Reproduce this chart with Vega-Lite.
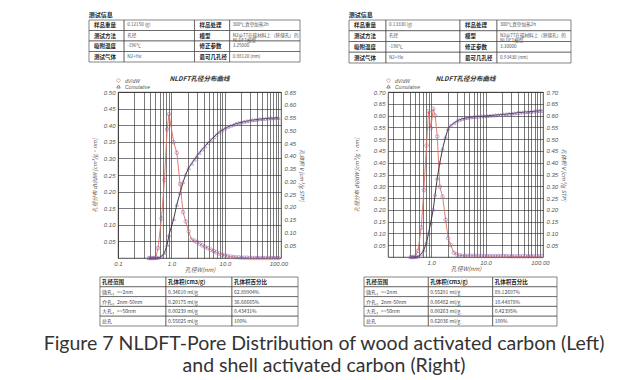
{
  "$schema": "https://vega.github.io/schema/vega-lite/v6.json",
  "background": "white",
  "padding": {"left": 43, "top": 11, "right": 2, "bottom": 2},
  "config": {"view": {"stroke": null}, "font": "Liberation Sans", "axis": {"labelOverlap": false}, "axisY": {"labelOverlap": false}},
  "title": {
    "text": ["Figure 7 NLDFT-Pore Distribution of wood activated carbon (Left)", "and shell activated carbon (Right)"],
    "orient": "bottom", "anchor": "middle", "fontSize": 19.5, "font": "Lato", "fontWeight": "normal",
    "color": "#333333", "lineHeight": 22, "offset": 9, "dx": -6
  },
  "datasets": {
    "curveL": [
      {"w": 0.38, "dv": 0, "cum": 0}, {"w": 0.42, "dv": 0, "cum": 0}, {"w": 0.46, "dv": 0, "cum": 0},
      {"w": 0.51, "dv": 0.002, "cum": 0}, {"w": 0.56, "dv": 0.03, "cum": 0.001}, {"w": 0.65, "dv": 0.119, "cum": 0.006},
      {"w": 0.74, "dv": 0.235, "cum": 0.02}, {"w": 0.83, "dv": 0.388, "cum": 0.052}, {"w": 0.9, "dv": 0.433, "cum": 0.09},
      {"w": 1.1, "dv": 0.349, "cum": 0.153}, {"w": 1.26, "dv": 0.317, "cum": 0.209}, {"w": 1.45, "dv": 0.223, "cum": 0.255},
      {"w": 1.65, "dv": 0.138, "cum": 0.297}, {"w": 1.85, "dv": 0.11, "cum": 0.327}, {"w": 2.1, "dv": 0.08, "cum": 0.353},
      {"w": 2.4, "dv": 0.055, "cum": 0.37}, {"w": 2.7, "dv": 0.052, "cum": 0.386}, {"w": 3.0, "dv": 0.048, "cum": 0.399},
      {"w": 3.35, "dv": 0.043, "cum": 0.412}, {"w": 3.75, "dv": 0.038, "cum": 0.425}, {"w": 4.25, "dv": 0.033, "cum": 0.438},
      {"w": 4.85, "dv": 0.03, "cum": 0.451}, {"w": 5.45, "dv": 0.025, "cum": 0.462}, {"w": 6.2, "dv": 0.021, "cum": 0.473},
      {"w": 6.9, "dv": 0.017, "cum": 0.483}, {"w": 7.9, "dv": 0.013, "cum": 0.493}, {"w": 8.8, "dv": 0.01, "cum": 0.5},
      {"w": 10.0, "dv": 0.008, "cum": 0.507}, {"w": 11.3, "dv": 0.006, "cum": 0.513}, {"w": 12.9, "dv": 0.004, "cum": 0.518},
      {"w": 14.5, "dv": 0.003, "cum": 0.522}, {"w": 16.2, "dv": 0.002, "cum": 0.526}, {"w": 18.2, "dv": 0.002, "cum": 0.529},
      {"w": 20.4, "dv": 0.001, "cum": 0.532}, {"w": 22.9, "dv": 0.001, "cum": 0.534}, {"w": 25.7, "dv": 0.001, "cum": 0.536},
      {"w": 28.8, "dv": 0, "cum": 0.538}, {"w": 32.4, "dv": 0, "cum": 0.54}, {"w": 36.3, "dv": 0, "cum": 0.541},
      {"w": 40.7, "dv": 0, "cum": 0.543}, {"w": 45.7, "dv": 0, "cum": 0.544}, {"w": 51.3, "dv": 0, "cum": 0.545},
      {"w": 57.5, "dv": 0, "cum": 0.546}, {"w": 64.6, "dv": 0, "cum": 0.547}, {"w": 72.4, "dv": 0, "cum": 0.548},
      {"w": 81.3, "dv": 0, "cum": 0.548}, {"w": 91.2, "dv": 0, "cum": 0.549}, {"w": 100, "dv": 0, "cum": 0.549}
    ],
    "curveR": [
      {"w": 0.42, "dv": 0, "cum": 0}, {"w": 0.46, "dv": 0, "cum": 0}, {"w": 0.51, "dv": 0.002, "cum": 0},
      {"w": 0.57, "dv": 0.026, "cum": 0.002}, {"w": 0.655, "dv": 0.125, "cum": 0.012}, {"w": 0.73, "dv": 0.284, "cum": 0.03},
      {"w": 0.82, "dv": 0.473, "cum": 0.062}, {"w": 0.89, "dv": 0.618, "cum": 0.1}, {"w": 0.98, "dv": 0.547, "cum": 0.146},
      {"w": 1.09, "dv": 0.629, "cum": 0.203}, {"w": 1.18, "dv": 0.6, "cum": 0.265}, {"w": 1.29, "dv": 0.511, "cum": 0.335},
      {"w": 1.44, "dv": 0.298, "cum": 0.4}, {"w": 1.62, "dv": 0.256, "cum": 0.46}, {"w": 1.84, "dv": 0.158, "cum": 0.51},
      {"w": 2.05, "dv": 0.08, "cum": 0.545}, {"w": 2.28, "dv": 0.051, "cum": 0.558}, {"w": 2.61, "dv": 0.018, "cum": 0.568},
      {"w": 2.94, "dv": 0.011, "cum": 0.576}, {"w": 3.3, "dv": 0.007, "cum": 0.582}, {"w": 3.7, "dv": 0.006, "cum": 0.586},
      {"w": 4.2, "dv": 0.005, "cum": 0.589}, {"w": 4.7, "dv": 0.005, "cum": 0.591}, {"w": 5.3, "dv": 0.005, "cum": 0.593},
      {"w": 6.0, "dv": 0.005, "cum": 0.594}, {"w": 6.7, "dv": 0.005, "cum": 0.595}, {"w": 7.5, "dv": 0.004, "cum": 0.596},
      {"w": 8.5, "dv": 0.004, "cum": 0.597}, {"w": 9.5, "dv": 0.004, "cum": 0.598}, {"w": 10.7, "dv": 0.004, "cum": 0.599},
      {"w": 12, "dv": 0.004, "cum": 0.6}, {"w": 13.5, "dv": 0.004, "cum": 0.601}, {"w": 15.2, "dv": 0.004, "cum": 0.602},
      {"w": 17, "dv": 0.004, "cum": 0.603}, {"w": 19, "dv": 0.004, "cum": 0.604}, {"w": 21.5, "dv": 0.004, "cum": 0.605},
      {"w": 24, "dv": 0.004, "cum": 0.606}, {"w": 27, "dv": 0.003, "cum": 0.608}, {"w": 30.5, "dv": 0.003, "cum": 0.609},
      {"w": 34, "dv": 0.003, "cum": 0.61}, {"w": 38.5, "dv": 0.003, "cum": 0.612}, {"w": 43, "dv": 0.003, "cum": 0.613},
      {"w": 48.5, "dv": 0.003, "cum": 0.614}, {"w": 54.5, "dv": 0.003, "cum": 0.615}, {"w": 61, "dv": 0.003, "cum": 0.616},
      {"w": 69, "dv": 0.003, "cum": 0.617}, {"w": 77, "dv": 0.003, "cum": 0.618}, {"w": 87, "dv": 0.003, "cum": 0.619},
      {"w": 97, "dv": 0.003, "cum": 0.62}, {"w": 108, "dv": 0.003, "cum": 0.62}
    ],
    "infoL": [
      {"r": 0, "c0": 0, "c1": 1, "t": "样品重量", "k": 1}, {"r": 0, "c0": 1, "c1": 3, "t": "0.12150 (g)", "k": 0},
      {"r": 0, "c0": 3, "c1": 4, "t": "样品处理", "k": 1}, {"r": 0, "c0": 4, "c1": 6, "t": "300℃真空加热2h", "k": 0},
      {"r": 1, "c0": 0, "c1": 1, "t": "测试方法", "k": 1}, {"r": 1, "c0": 1, "c1": 3, "t": "孔径", "k": 0},
      {"r": 1, "c0": 3, "c1": 4, "t": "模型", "k": 1}, {"r": 1, "c0": 4, "c1": 6, "t": "N2@77在碳材料上（狭缝孔）的\nNLDFT模型", "k": 0},
      {"r": 2, "c0": 0, "c1": 1, "t": "吸附温度", "k": 1}, {"r": 2, "c0": 1, "c1": 3, "t": "-196℃", "k": 0},
      {"r": 2, "c0": 3, "c1": 4, "t": "修正参数", "k": 1}, {"r": 2, "c0": 4, "c1": 6, "t": "3.25000", "k": 0},
      {"r": 3, "c0": 0, "c1": 1, "t": "测试气体", "k": 1}, {"r": 3, "c0": 1, "c1": 3, "t": "N2+He", "k": 0},
      {"r": 3, "c0": 3, "c1": 4, "t": "最可几孔径", "k": 1}, {"r": 3, "c0": 4, "c1": 6, "t": "0.88120 (nm)", "k": 0}
    ],
    "infoR": [
      {"r": 0, "c0": 0, "c1": 1, "t": "样品重量", "k": 1}, {"r": 0, "c0": 1, "c1": 3, "t": "0.13330 (g)", "k": 0},
      {"r": 0, "c0": 3, "c1": 4, "t": "样品处理", "k": 1}, {"r": 0, "c0": 4, "c1": 6, "t": "300℃真空加热2h", "k": 0},
      {"r": 1, "c0": 0, "c1": 1, "t": "测试方法", "k": 1}, {"r": 1, "c0": 1, "c1": 3, "t": "孔径", "k": 0},
      {"r": 1, "c0": 3, "c1": 4, "t": "模型", "k": 1}, {"r": 1, "c0": 4, "c1": 6, "t": "N2@77在碳材料上（狭缝孔）的\nNLDFT模型", "k": 0},
      {"r": 2, "c0": 0, "c1": 1, "t": "吸附温度", "k": 1}, {"r": 2, "c0": 1, "c1": 3, "t": "-196℃", "k": 0},
      {"r": 2, "c0": 3, "c1": 4, "t": "修正参数", "k": 1}, {"r": 2, "c0": 4, "c1": 6, "t": "3.30000", "k": 0},
      {"r": 3, "c0": 0, "c1": 1, "t": "测试气体", "k": 1}, {"r": 3, "c0": 1, "c1": 3, "t": "N2+He", "k": 0},
      {"r": 3, "c0": 3, "c1": 4, "t": "最可几孔径", "k": 1}, {"r": 3, "c0": 4, "c1": 6, "t": "0.93430 (nm)", "k": 0}
    ],
    "poreL": [
      {"r": 0, "c0": 0, "c1": 1, "t": "孔径范围", "k": 1}, {"r": 0, "c0": 1, "c1": 2, "t": "孔体积(cm3/g)", "k": 1}, {"r": 0, "c0": 2, "c1": 3, "t": "孔体积百分比", "k": 1},
      {"r": 1, "c0": 0, "c1": 1, "t": "微孔，<=2nm", "k": 0}, {"r": 1, "c0": 1, "c1": 2, "t": "0.34610 ml/g", "k": 0}, {"r": 1, "c0": 2, "c1": 3, "t": "62.89904%", "k": 0},
      {"r": 2, "c0": 0, "c1": 1, "t": "介孔，2nm-50nm", "k": 0}, {"r": 2, "c0": 1, "c1": 2, "t": "0.20175 ml/g", "k": 0}, {"r": 2, "c0": 2, "c1": 3, "t": "36.66665%", "k": 0},
      {"r": 3, "c0": 0, "c1": 1, "t": "大孔，>=50nm", "k": 0}, {"r": 3, "c0": 1, "c1": 2, "t": "0.00239 ml/g", "k": 0}, {"r": 3, "c0": 2, "c1": 3, "t": "0.43431%", "k": 0},
      {"r": 4, "c0": 0, "c1": 1, "t": "总孔", "k": 0}, {"r": 4, "c0": 1, "c1": 2, "t": "0.55025 ml/g", "k": 0}, {"r": 4, "c0": 2, "c1": 3, "t": "100%", "k": 0}
    ],
    "poreR": [
      {"r": 0, "c0": 0, "c1": 1, "t": "孔径范围", "k": 1}, {"r": 0, "c0": 1, "c1": 2, "t": "孔体积(cm3/g)", "k": 1}, {"r": 0, "c0": 2, "c1": 3, "t": "孔体积百分比", "k": 1},
      {"r": 1, "c0": 0, "c1": 1, "t": "微孔，<=2nm", "k": 0}, {"r": 1, "c0": 1, "c1": 2, "t": "0.55291 ml/g", "k": 0}, {"r": 1, "c0": 2, "c1": 3, "t": "89.12697%", "k": 0},
      {"r": 2, "c0": 0, "c1": 1, "t": "介孔，2nm-50nm", "k": 0}, {"r": 2, "c0": 1, "c1": 2, "t": "0.06482 ml/g", "k": 0}, {"r": 2, "c0": 2, "c1": 3, "t": "10.44878%", "k": 0},
      {"r": 3, "c0": 0, "c1": 1, "t": "大孔，>=50nm", "k": 0}, {"r": 3, "c0": 1, "c1": 2, "t": "0.00263 ml/g", "k": 0}, {"r": 3, "c0": 2, "c1": 3, "t": "0.42395%", "k": 0},
      {"r": 4, "c0": 0, "c1": 1, "t": "总孔", "k": 0}, {"r": 4, "c0": 1, "c1": 2, "t": "0.62036 ml/g", "k": 0}, {"r": 4, "c0": 2, "c1": 3, "t": "100%", "k": 0}
    ]
  },
  "spacing": 43,
  "resolve": {"scale": {"color": "independent", "shape": "independent"}, "legend": {"color": "independent", "shape": "independent"}},
  "hconcat": [
    {
      "spacing": 12,
      "resolve": {"scale": {"color": "independent", "shape": "independent"}, "legend": {"color": "independent", "shape": "independent"}},
      "vconcat": [
        {
          "width": 182, "height": 42,
          "data": {"name": "infoL"},
          "title": {"text": "测试信息", "anchor": "start", "fontSize": 6, "fontWeight": "bold", "font": "Noto Sans CJK SC", "offset": 2, "color": "#222222"},
          "encoding": {"y": {"field": "r", "type": "ordinal", "axis": null, "scale": {"paddingInner": 0, "paddingOuter": 0}}},
          "layer": [
            {"mark": {"type": "rect", "fill": "white", "stroke": "#333333", "strokeWidth": 0.6},
             "encoding": {"x": {"field": "c0", "type": "quantitative", "scale": {"domain": [0.825, 6], "nice": false, "zero": false}, "axis": null}, "x2": {"field": "c1"}}},
            {"transform": [{"filter": "datum.k == 1"}],
             "mark": {"type": "text", "align": "left", "dx": 5, "fontSize": 5.5, "fontWeight": "bold", "font": "Noto Sans CJK SC", "color": "#222222"},
             "encoding": {"x": {"field": "c0", "type": "quantitative"}, "text": {"field": "t"}}},
            {"transform": [{"filter": "datum.k == 0"}],
             "mark": {"type": "text", "align": "left", "dx": 3, "fontSize": 4.6, "font": "Noto Sans CJK SC", "color": "#555555", "lineBreak": "\n", "lineHeight": 4.8},
             "encoding": {"x": {"field": "c0", "type": "quantitative"}, "text": {"field": "t"}}}
          ]
        },
        {
          "spacing": 3,
          "resolve": {"scale": {"color": "independent", "shape": "independent"}, "legend": {"color": "independent", "shape": "independent"}},
          "vconcat": [
            {
              "width": 163, "height": 166,
              "data": {"name": "curveL"},
              "view": {"stroke": "#222222", "strokeWidth": 0.8},
              "title": {"text": "NLDFT孔径分布曲线", "fontSize": 6.5, "fontStyle": "italic", "fontWeight": "bold", "font": "Noto Sans CJK SC", "color": "#333333", "offset": 4, "dy": 8, "anchor": "middle"},
              "encoding": {
                "x": {"field": "w", "type": "quantitative", "scale": {"type": "log", "domain": [0.1, 112], "nice": false},
                  "axis": {"values": [0.1, 0.2, 0.3, 0.4, 0.5, 0.6, 0.7, 0.8, 0.9, 1, 2, 3, 4, 5, 6, 7, 8, 9, 10, 20, 30, 40, 50, 60, 70, 80, 90, 100],
                    "labelExpr": "datum.value == 0.1 ? '0.1' : datum.value == 1 ? '1.0' : datum.value == 10 ? '10.0' : datum.value == 100 ? '100.00' : ''",
                    "labelOverlap": false, "labelFlush": false, "labelFontSize": 6, "labelColor": "#555555", "labelFontStyle": "italic", "labelPadding": 2,
                    "grid": true, "gridColor": "#222222", "gridWidth": 0.6, "ticks": false, "domain": false,
                    "title": "孔径W(nm)", "titleFont": "Noto Sans CJK SC", "titleFontSize": 6, "titleFontWeight": "normal", "titleFontStyle": "italic", "titleColor": "#555555", "titlePadding": 0}}
              },
              "layer": [
                {
                  "encoding": {
                    "y": {"field": "dv", "type": "quantitative", "scale": {"domain": [0, 0.5], "nice": false},
                      "axis": {"values": [0.05, 0.1, 0.15, 0.2, 0.25, 0.3, 0.35, 0.4, 0.45, 0.5], "format": ".2f", "grid": true, "gridColor": "#222222", "gridWidth": 0.6,
                        "labelOverlap": false, "labelBound": false, "ticks": false, "domain": false, "labelFontSize": 6, "labelColor": "#555555", "labelFontStyle": "italic", "labelPadding": 3, "minExtent": 18,
                        "title": "孔径分布 dV/dW [cm³/g·nm]", "titleFont": "Noto Sans CJK SC", "titleFontSize": 5.5, "titleFontWeight": "normal", "titleFontStyle": "italic", "titleColor": "#555555", "titlePadding": 3}}
                  },
                  "layer": [
                    {"mark": {"type": "line", "strokeWidth": 0.9},
                     "encoding": {
                       "color": {"datum": "dV/dW", "scale": {"domain": ["dV/dW", "Cumulative"], "range": ["#e0705f", "#2a2a2a"]},
                         "legend": {"orient": "none", "legendX": -2, "legendY": -14, "direction": "vertical", "title": null, "labelFontSize": 5, "labelColor": "#555555", "labelFontStyle": "italic", "symbolSize": 12, "symbolStrokeWidth": 0.8, "rowPadding": -2, "padding": 0}}
                     }},
                    {"mark": {"type": "point", "filled": false, "color": "#8a5aa8", "strokeWidth": 0.7, "size": 13},
                     "encoding": {
                       "shape": {"datum": "dV/dW", "scale": {"domain": ["dV/dW", "Cumulative"], "range": ["circle", "triangle-up"]},
                         "legend": {"orient": "none", "legendX": -2, "legendY": -14, "direction": "vertical", "title": null, "labelFontSize": 5, "labelColor": "#555555", "labelFontStyle": "italic", "symbolSize": 12, "symbolStrokeWidth": 0.8, "rowPadding": -2, "padding": 0}}
                     }}
                  ]
                },
                {
                  "encoding": {
                    "y": {"field": "cum", "type": "quantitative", "scale": {"domain": [0, 0.65], "nice": false},
                      "axis": {"orient": "right", "values": [0.05, 0.1, 0.15, 0.2, 0.25, 0.3, 0.35, 0.4, 0.45, 0.5, 0.55, 0.6, 0.65], "format": ".2f", "grid": false,
                        "labelOverlap": false, "labelBound": false, "ticks": false, "domain": false, "labelFontSize": 6, "labelColor": "#555555", "labelFontStyle": "italic", "labelPadding": 3,
                        "title": "孔体积 V [cm³/g STP]", "titleFont": "Noto Sans CJK SC", "titleFontSize": 5.5, "titleFontWeight": "normal", "titleFontStyle": "italic", "titleColor": "#555555", "titlePadding": 3}}
                  },
                  "layer": [
                    {"mark": {"type": "line", "strokeWidth": 0.9}, "encoding": {"color": {"datum": "Cumulative"}}},
                    {"mark": {"type": "point", "filled": false, "color": "#8a5aa8", "strokeWidth": 0.7, "size": 13}, "encoding": {"shape": {"datum": "Cumulative"}}}
                  ]
                }
              ],
              "resolve": {"scale": {"y": "independent"}}
            },
            {
              "width": 180, "height": 49,
              "data": {"name": "poreL"},
              "encoding": {"y": {"field": "r", "type": "ordinal", "axis": null, "scale": {"paddingInner": 0, "paddingOuter": 0}}},
              "layer": [
                {"mark": {"type": "rect", "fill": "white", "stroke": "#333333", "strokeWidth": 0.6},
                 "encoding": {"x": {"field": "c0", "type": "quantitative", "scale": {"domain": [0.273, 3], "nice": false, "zero": false}, "axis": null}, "x2": {"field": "c1"}}},
                {"transform": [{"filter": "datum.k == 1"}],
                 "mark": {"type": "text", "align": "left", "dx": 2, "fontSize": 5.5, "fontWeight": "bold", "font": "Noto Sans CJK SC", "color": "#222222"},
                 "encoding": {"x": {"field": "c0", "type": "quantitative"}, "text": {"field": "t"}}},
                {"transform": [{"filter": "datum.k == 0"}],
                 "mark": {"type": "text", "align": "left", "dx": 2, "fontSize": 5, "font": "Noto Sans CJK SC", "color": "#444444"},
                 "encoding": {"x": {"field": "c0", "type": "quantitative"}, "text": {"field": "t"}}}
              ]
            }
          ]
        }
      ]
    },
    {
      "spacing": 11,
      "resolve": {"scale": {"color": "independent", "shape": "independent"}, "legend": {"color": "independent", "shape": "independent"}},
      "vconcat": [
        {
          "width": 183, "height": 43,
          "data": {"name": "infoR"},
          "title": {"text": "测试信息", "anchor": "start", "fontSize": 6, "fontWeight": "bold", "font": "Noto Sans CJK SC", "offset": 2, "color": "#222222"},
          "encoding": {"y": {"field": "r", "type": "ordinal", "axis": null, "scale": {"paddingInner": 0, "paddingOuter": 0}}},
          "layer": [
            {"mark": {"type": "rect", "fill": "white", "stroke": "#333333", "strokeWidth": 0.6},
             "encoding": {"x": {"field": "c0", "type": "quantitative", "scale": {"domain": [1.054, 6], "nice": false, "zero": false}, "axis": null}, "x2": {"field": "c1"}}},
            {"transform": [{"filter": "datum.k == 1"}],
             "mark": {"type": "text", "align": "left", "dx": 5, "fontSize": 5.5, "fontWeight": "bold", "font": "Noto Sans CJK SC", "color": "#222222"},
             "encoding": {"x": {"field": "c0", "type": "quantitative"}, "text": {"field": "t"}}},
            {"transform": [{"filter": "datum.k == 0"}],
             "mark": {"type": "text", "align": "left", "dx": 3, "fontSize": 4.6, "font": "Noto Sans CJK SC", "color": "#555555", "lineBreak": "\n", "lineHeight": 4.8},
             "encoding": {"x": {"field": "c0", "type": "quantitative"}, "text": {"field": "t"}}}
          ]
        },
        {
          "spacing": 4,
          "resolve": {"scale": {"color": "independent", "shape": "independent"}, "legend": {"color": "independent", "shape": "independent"}},
          "vconcat": [
            {
              "width": 155, "height": 165,
              "data": {"name": "curveR"},
              "view": {"stroke": "#222222", "strokeWidth": 0.8},
              "title": {"text": "NLDFT孔径分布曲线", "fontSize": 6.5, "fontStyle": "italic", "fontWeight": "bold", "font": "Noto Sans CJK SC", "color": "#333333", "offset": 4, "dy": 8, "anchor": "middle"},
              "encoding": {
                "x": {"field": "w", "type": "quantitative", "scale": {"type": "log", "domain": [0.16, 114], "nice": false},
                  "axis": {"values": [0.2, 0.3, 0.4, 0.5, 0.6, 0.7, 0.8, 0.9, 1, 2, 3, 4, 5, 6, 7, 8, 9, 10, 20, 30, 40, 50, 60, 70, 80, 90, 100],
                    "labelExpr": "datum.value == 1 ? '1.0' : datum.value == 10 ? '10.0' : datum.value == 100 ? '100.00' : ''",
                    "labelOverlap": false, "labelFlush": false, "labelFontSize": 6, "labelColor": "#555555", "labelFontStyle": "italic", "labelPadding": 2,
                    "grid": true, "gridColor": "#222222", "gridWidth": 0.6, "ticks": false, "domain": false,
                    "title": "孔径W(nm)", "titleFont": "Noto Sans CJK SC", "titleFontSize": 6, "titleFontWeight": "normal", "titleFontStyle": "italic", "titleColor": "#555555", "titlePadding": 0}}
              },
              "layer": [
                {
                  "encoding": {
                    "y": {"field": "dv", "type": "quantitative", "scale": {"domain": [0, 0.7], "nice": false},
                      "axis": {"values": [0.05, 0.1, 0.15, 0.2, 0.25, 0.3, 0.35, 0.4, 0.45, 0.5, 0.55, 0.6, 0.65, 0.7], "format": ".2f", "grid": true, "gridColor": "#222222", "gridWidth": 0.6,
                        "labelOverlap": false, "labelBound": false, "ticks": false, "domain": false, "labelFontSize": 6, "labelColor": "#555555", "labelFontStyle": "italic", "labelPadding": 3, "minExtent": 26,
                        "title": "孔径分布 dV/dW [cm³/g·nm]", "titleFont": "Noto Sans CJK SC", "titleFontSize": 5.5, "titleFontWeight": "normal", "titleFontStyle": "italic", "titleColor": "#555555", "titlePadding": 3}}
                  },
                  "layer": [
                    {"mark": {"type": "line", "strokeWidth": 0.9},
                     "encoding": {
                       "color": {"datum": "dV/dW", "scale": {"domain": ["dV/dW", "Cumulative"], "range": ["#e0705f", "#2a2a2a"]},
                         "legend": {"orient": "none", "legendX": -2, "legendY": -14, "direction": "vertical", "title": null, "labelFontSize": 5, "labelColor": "#555555", "labelFontStyle": "italic", "symbolSize": 12, "symbolStrokeWidth": 0.8, "rowPadding": -2, "padding": 0}}
                     }},
                    {"mark": {"type": "point", "filled": false, "color": "#8a5aa8", "strokeWidth": 0.7, "size": 13},
                     "encoding": {
                       "shape": {"datum": "dV/dW", "scale": {"domain": ["dV/dW", "Cumulative"], "range": ["circle", "triangle-up"]},
                         "legend": {"orient": "none", "legendX": -2, "legendY": -14, "direction": "vertical", "title": null, "labelFontSize": 5, "labelColor": "#555555", "labelFontStyle": "italic", "symbolSize": 12, "symbolStrokeWidth": 0.8, "rowPadding": -2, "padding": 0}}
                     }}
                  ]
                },
                {
                  "encoding": {
                    "y": {"field": "cum", "type": "quantitative", "scale": {"domain": [0, 0.7], "nice": false},
                      "axis": {"orient": "right", "values": [0.05, 0.1, 0.15, 0.2, 0.25, 0.3, 0.35, 0.4, 0.45, 0.5, 0.55, 0.6, 0.65, 0.7], "format": ".2f", "grid": false,
                        "labelOverlap": false, "labelBound": false, "ticks": false, "domain": false, "labelFontSize": 6, "labelColor": "#555555", "labelFontStyle": "italic", "labelPadding": 3,
                        "title": "孔体积 V [cm³/g STP]", "titleFont": "Noto Sans CJK SC", "titleFontSize": 5.5, "titleFontWeight": "normal", "titleFontStyle": "italic", "titleColor": "#555555", "titlePadding": 3}}
                  },
                  "layer": [
                    {"mark": {"type": "line", "strokeWidth": 0.9}, "encoding": {"color": {"datum": "Cumulative"}}},
                    {"mark": {"type": "point", "filled": false, "color": "#8a5aa8", "strokeWidth": 0.7, "size": 13}, "encoding": {"shape": {"datum": "Cumulative"}}}
                  ]
                }
              ],
              "resolve": {"scale": {"y": "independent"}}
            },
            {
              "width": 169, "height": 49,
              "data": {"name": "poreR"},
              "encoding": {"y": {"field": "r", "type": "ordinal", "axis": null, "scale": {"paddingInner": 0, "paddingOuter": 0}}},
              "layer": [
                {"mark": {"type": "rect", "fill": "white", "stroke": "#333333", "strokeWidth": 0.6},
                 "encoding": {"x": {"field": "c0", "type": "quantitative", "scale": {"domain": [0.373, 3], "nice": false, "zero": false}, "axis": null}, "x2": {"field": "c1"}}},
                {"transform": [{"filter": "datum.k == 1"}],
                 "mark": {"type": "text", "align": "left", "dx": 2, "fontSize": 5.5, "fontWeight": "bold", "font": "Noto Sans CJK SC", "color": "#222222"},
                 "encoding": {"x": {"field": "c0", "type": "quantitative"}, "text": {"field": "t"}}},
                {"transform": [{"filter": "datum.k == 0"}],
                 "mark": {"type": "text", "align": "left", "dx": 2, "fontSize": 5, "font": "Noto Sans CJK SC", "color": "#444444"},
                 "encoding": {"x": {"field": "c0", "type": "quantitative"}, "text": {"field": "t"}}}
              ]
            }
          ]
        }
      ]
    }
  ]
}
